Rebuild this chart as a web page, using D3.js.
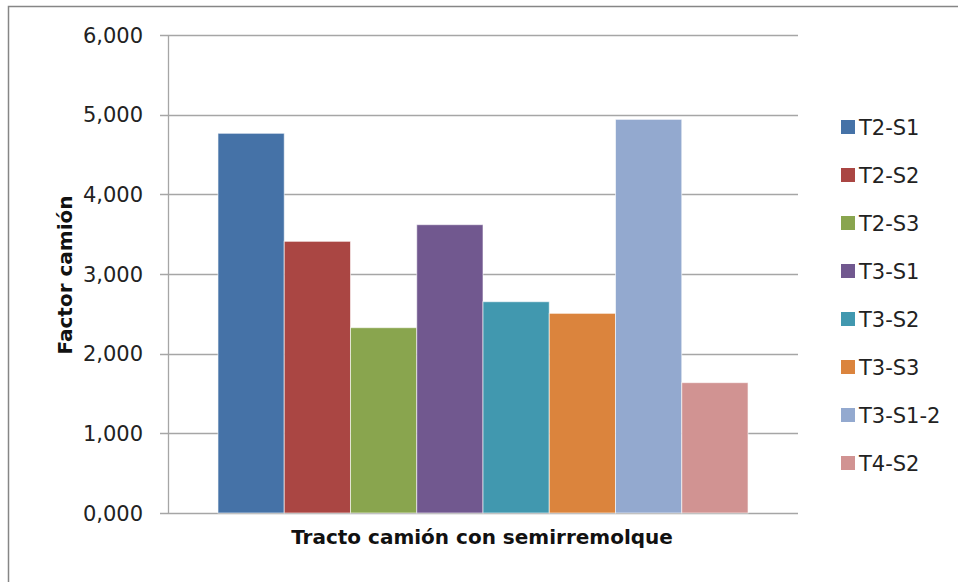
<!DOCTYPE html>
<html>
<head>
<meta charset="utf-8">
<script src="https://cdn.jsdelivr.net/npm/d3@7"></script>
<style>
  body { margin: 0; background: #fff; }
  text { font-family: "DejaVu Sans", sans-serif; }
</style>
</head>
<body>
<div class="chart"></div>
<script>
// data
let series = ["T2-S1", "T2-S2", "T2-S3", "T3-S1", "T3-S2", "T3-S3", "T3-S1-2", "T4-S2"];
let values = [4.766, 3.41, 2.326, 3.619, 2.652, 2.506, 4.941, 1.636];
let colors = ["#4572A7", "#AA4643", "#89A54E", "#71588F", "#4198AF", "#DB843D", "#93A9CF", "#D19392"];
let yTicks = [0, 1, 2, 3, 4, 5, 6];
let category = "Tracto camión con semirremolque";
let yTitle = "Factor camión";

let svgWidth = 958;
let svgHeight = 582;

let margin = { top: 35, right: 160, bottom: 69, left: 168 };
let width = 798 - margin.left;
let height = 513 - margin.top;

var svg = d3.select(".chart")
  .append("svg")
  .attr("width", svgWidth)
  .attr("height", svgHeight);

// outer chart frame (runs off the right and bottom edge)
svg.append("rect")
  .attr("x", 8.5)
  .attr("y", 6.5)
  .attr("width", 1000)
  .attr("height", 700)
  .attr("fill", "none")
  .attr("stroke", "#868686")
  .attr("stroke-width", 1.5);

var chartGroup = svg.append("g")
  .attr("transform", `translate(${margin.left}, ${margin.top})`);

let yScale = d3.scaleLinear().domain([0, 6]).range([height, 0]);

// the single category holds all series side by side
let xOuter = d3.scaleBand().domain([category]).range([0, width]).paddingInner(0).paddingOuter(0.0943);
let xInner = d3.scaleBand().domain(series).range([0, xOuter.bandwidth()]);

// gridlines
chartGroup.append("g")
  .selectAll("line")
  .data(yTicks)
  .enter()
  .append("line")
  .attr("x1", -8)
  .attr("x2", width)
  .attr("y1", d => Math.round(yScale(d)) + 0.5)
  .attr("y2", d => Math.round(yScale(d)) + 0.5)
  .attr("stroke", "#a6a6a6")
  .attr("stroke-width", 1.3);

// y axis labels written like "6,000"
let fmt = d => d + ",000";
chartGroup.append("g")
  .selectAll("text")
  .data(yTicks)
  .enter()
  .append("text")
  .attr("x", -25)
  .attr("y", d => yScale(d))
  .attr("dy", "0.36em")
  .attr("text-anchor", "end")
  .attr("font-size", 21)
  .attr("fill", "#222")
  .text(fmt);

// bars
chartGroup.append("g")
  .attr("transform", `translate(${xOuter(category)}, 0)`)
  .selectAll("rect")
  .data(values)
  .enter()
  .append("rect")
  .attr("x", (d, i) => xInner(series[i]))
  .attr("y", d => yScale(d))
  .attr("width", xInner.bandwidth())
  .attr("height", d => height - yScale(d))
  .attr("fill", (d, i) => colors[i])
  .attr("stroke", "rgba(255,255,255,0.6)")
  .attr("stroke-width", 1);

// y axis line
chartGroup.append("line")
  .attr("x1", 0.5).attr("x2", 0.5)
  .attr("y1", 0).attr("y2", height + 1)
  .attr("stroke", "#a6a6a6")
  .attr("stroke-width", 1.3);

// axis titles
chartGroup.append("text")
  .attr("x", width / 2 - 1)
  .attr("y", height + 31)
  .attr("text-anchor", "middle")
  .attr("font-size", 20)
  .attr("font-weight", "bold")
  .attr("fill", "#111")
  .text(category);

chartGroup.append("text")
  .attr("transform", `translate(${-96}, ${height / 2 + 1}) rotate(-90)`)
  .attr("text-anchor", "middle")
  .attr("font-size", 20)
  .attr("font-weight", "bold")
  .attr("fill", "#111")
  .text(yTitle);

// legend
let legend = svg.append("g")
  .attr("transform", "translate(841, 127)");

let items = legend.selectAll("g")
  .data(series)
  .enter()
  .append("g")
  .attr("transform", (d, i) => `translate(0, ${i * 48})`);

items.append("rect")
  .attr("x", 0)
  .attr("y", -7)
  .attr("width", 14)
  .attr("height", 14)
  .attr("fill", (d, i) => colors[i]);

items.append("text")
  .attr("x", 18)
  .attr("y", 0)
  .attr("dy", "0.36em")
  .attr("font-size", 21)
  .attr("fill", "#222")
  .text(d => d);
</script>
</body>
</html>
